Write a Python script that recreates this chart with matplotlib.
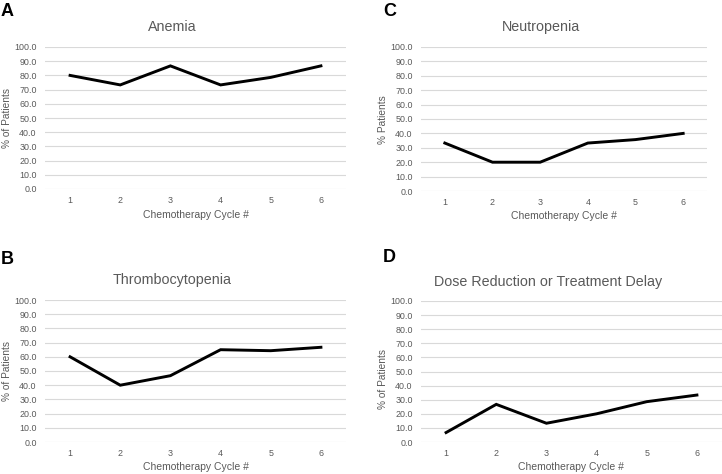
import matplotlib
matplotlib.use('Agg')
from matplotlib import pyplot as plt

plt.rcParams['font.family'] = ['Liberation Sans', 'DejaVu Sans']

cycles = [1, 2, 3, 4, 5, 6]
anemia = [80.0, 73.3, 86.7, 73.3, 78.6, 86.7]
thrombocytopenia = [60.0, 40.0, 46.7, 65.0, 64.3, 66.7]
neutropenia = [33.3, 20.0, 20.0, 33.3, 35.7, 40.0]
dose_delay = [6.7, 26.7, 13.3, 20.0, 28.6, 33.3]
y_ticks = [0, 10, 20, 30, 40, 50, 60, 70, 80, 90, 100]

W, H = 722, 474
gray = '#595959'
fig = plt.figure(figsize=(W / 100, H / 100), dpi=100)


def px(x, y):
    return x / W, 1 - y / H


def panel(box, values, letter, letter_xy, title, title_xy, ylabel, ylabel_xy, xlabel_xy):
    left, top, right, bottom = box
    ax = fig.add_axes([left / W, 1 - bottom / H, (right - left) / W, (bottom - top) / H])
    ax.plot(cycles, values, color='black', lw=2.1, solid_joinstyle='miter', zorder=3)
    ax.set_xlim(0.5, 6.5)
    ax.set_ylim(0, 100)
    ax.set_yticks(y_ticks)
    ax.set_yticklabels([f'{v:.1f}' for v in y_ticks])
    ax.set_xticks(cycles)
    ax.grid(axis='y', color='#d9d9d9', lw=0.8)
    ax.set_axisbelow(True)
    for s in ax.spines.values():
        s.set_visible(False)
    ax.tick_params(length=0, labelsize=6.4, colors=gray, pad=6)
    ax.tick_params(axis='x', pad=5)
    fig.text(*px(*letter_xy), letter, fontsize=13, fontweight='bold', ha='left', va='center')
    fig.text(*px(*title_xy), title, fontsize=10.3, color=gray, ha='center', va='center')
    fig.text(*px(*ylabel_xy), ylabel, fontsize=7.3, color=gray, rotation=90, ha='center', va='center')
    fig.text(*px(*xlabel_xy), 'Chemotherapy Cycle #', fontsize=7.5, color=gray, ha='center', va='center')


panel((45, 47, 346, 189), anemia, 'A', (1, 12), 'Anemia', (172, 27),
      '% of Patients', (7, 118), (196, 215))
panel((421, 47, 707, 191), neutropenia, 'C', (383, 12), 'Neutropenia', (541, 27),
      '% Patients', (383, 120), (564, 216))
panel((45, 300, 346, 442), thrombocytopenia, 'B', (1, 259), 'Thrombocytopenia', (172, 280),
      '% of Patients', (7, 371), (196, 467))
panel((421, 301, 722, 442), dose_delay, 'D', (383, 258), 'Dose Reduction or Treatment Delay', (548, 282),
      '% of Patients', (383, 379), (571, 467))

fig.savefig('out.png', dpi=100)
